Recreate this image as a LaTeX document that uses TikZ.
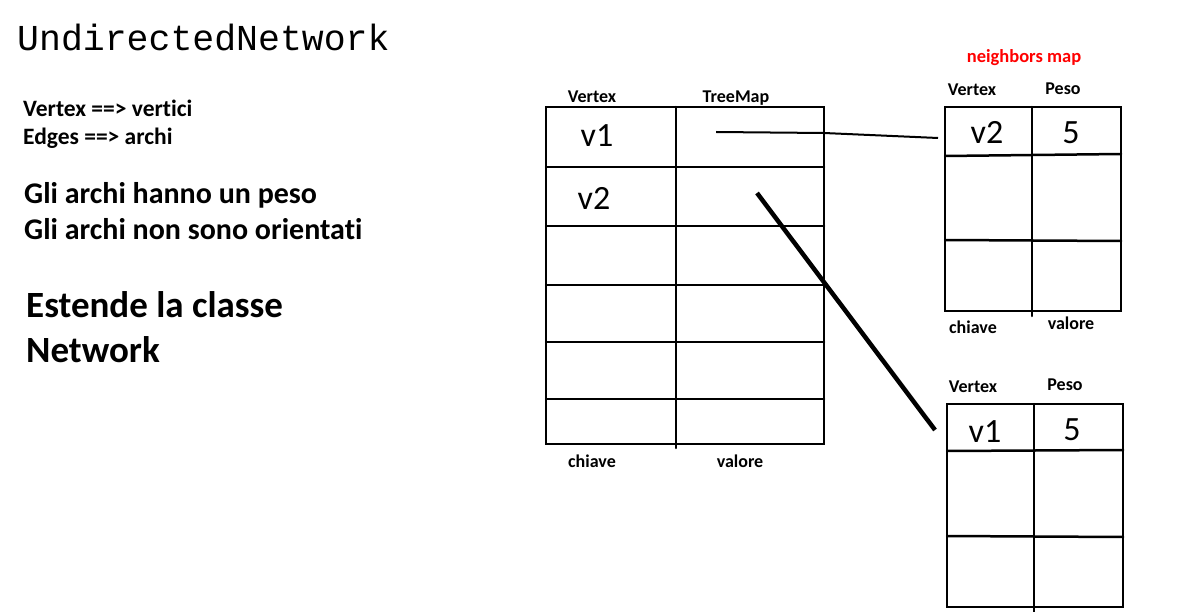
\documentclass[tikz,border=0pt]{standalone}
\usepackage{fontspec}
\setmainfont[Ligatures=NoCommon]{Carlito}
\newfontfamily\monofnt{Liberation Mono}
\begin{document}
\begin{tikzpicture}[x=1pt,y=-1pt,
  grid/.style={line width=2.5pt,line cap=round},
  lbl/.style={inner sep=0pt,anchor=base,font=\bfseries\fontsize{18}{21}\selectfont},
  cell/.style={inner sep=0pt,anchor=base,font=\fontsize{34}{40}\selectfont},
  txt/.style={inner sep=0pt,anchor=base west,font=\bfseries\fontsize{23.5}{28}\selectfont},
  txtm/.style={inner sep=0pt,anchor=base west,font=\bfseries\fontsize{30}{36}\selectfont},
  txtl/.style={inner sep=0pt,anchor=base west,font=\bfseries\fontsize{37}{44}\selectfont}]
\useasboundingbox[fill=white] (0,0) rectangle (1183,612);

% left texts
\node[inner sep=0pt,anchor=base west,font=\monofnt\fontsize{36.5}{40}\selectfont] (title) at (17,51) {UndirectedNetwork};
\node[txt] (t1) at (23,117) {Vertex ==> vertici};
\node[txt] (t2) at (23,145) {Edges ==> archi};
\node[txtm] (t3) at (24,204) {Gli archi hanno un peso};
\node[txtm] (t4) at (24,240) {Gli archi non sono orientati};
\node[txtl] (t5) at (26,317) {Estende la classe};
\node[txtl] (t6) at (26,362) {Network};

% main table
\draw[grid] (546,107) rectangle (824,444);
\draw[grid] (676,107) -- (676,448);
\foreach \yy in {167,226,285,342,399} \draw[grid] (546,\yy) -- (824,\yy);
\node[lbl] (mh1) at (592,103) {Vertex};
\node[lbl] (mh2) at (736,103) {TreeMap};
\node[lbl] (mf1) at (592,467) {chiave};
\node[lbl] (mf2) at (740,467) {valore};
\node[cell] (mv1) at (597,147) {v1};
\node[cell] (mv2) at (594,210) {v2};

% neighbors map 1
\node[inner sep=0pt,anchor=base,text=red,font=\bfseries\fontsize{18.5}{22}\selectfont] (nm) at (1024,63) {neighbors map};
\draw[grid] (945,107) rectangle (1121,311);
\draw[grid] (1032,107) -- (1032,316);
\draw[grid] (945,156) -- (1121,154);
\draw[grid] (945,240) -- (1121,241);
\node[lbl] (ah1) at (972,96) {Vertex};
\node[lbl] (ah2) at (1063,95) {Peso};
\node[lbl] (af1) at (973,333) {chiave};
\node[lbl] (af2) at (1071,329) {valore};
\node[cell] (av2) at (987,144) {v2};
\node[cell] (a5) at (1071,144) {5};

% neighbors map 2
\draw[grid] (947,404) rectangle (1123,607);
\draw[grid] (1034,404) -- (1034,612);
\draw[grid] (947,451) -- (1123,450);
\draw[grid] (947,536) -- (1123,537);
\node[lbl] (bh1) at (973,392) {Vertex};
\node[lbl] (bh2) at (1065,390) {Peso};
\node[cell] (bv1) at (985,442) {v1};
\node[cell] (b5) at (1072,440) {5};

% connectors
\coordinate (c1s) at (716,132);
\coordinate (c1m) at (824,133);
\coordinate (c1e) at (938,138);
\draw[line width=2pt] (c1s) -- (c1m) -- (c1e);
\coordinate (c2s) at (757,193);
\coordinate (c2e) at (935,430);
\draw[line width=4.5pt] (c2s) -- (c2e);
\end{tikzpicture}
\end{document}
